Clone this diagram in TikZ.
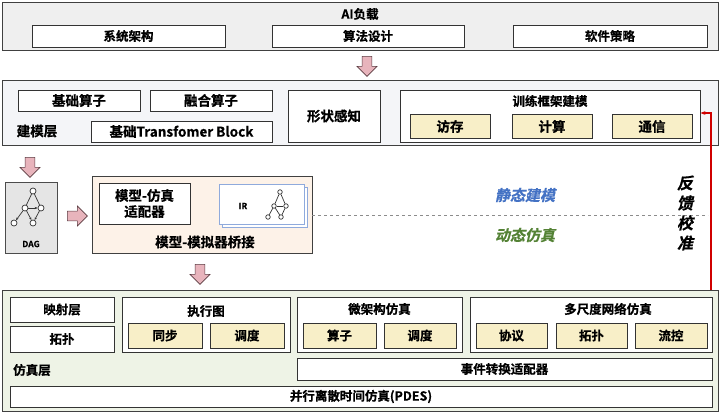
\documentclass[tikz,border=0pt]{standalone}
\usepackage{fontspec}
\setmainfont{Noto Sans CJK SC Bold}[FakeBold=0.6]
\newfontfamily\slfont{Noto Sans CJK SC Bold}[FakeSlant=0.22,FakeBold=0.6]
\usetikzlibrary{shapes.arrows,arrows.meta,calc}
\definecolor{panelgray}{HTML}{EFEFEF}
\definecolor{panelblue}{HTML}{F4F5F8}
\definecolor{panelgreen}{HTML}{EEF3E6}
\definecolor{subyel}{HTML}{F8EFC8}
\definecolor{bridgec}{HTML}{FDF2E8}
\definecolor{pinkarr}{HTML}{E8B4BC}
\definecolor{pinkdraw}{HTML}{5A3A40}
\definecolor{stblue}{HTML}{4472C4}
\definecolor{dygreen}{HTML}{548235}
\definecolor{fbred}{HTML}{D00000}
\tikzset{
  panel/.style={draw=black!75,line width=1pt},
  wbox/.style={draw=black!80,line width=0.9pt,fill=white},
  ybox/.style={draw=black!80,line width=0.9pt,fill=subyel},
  lbl/.style={font=\fontsize{12.5}{14}\selectfont},
  blbl/.style={font=\fontsize{13.5}{16}\selectfont},
  barrow/.style={single arrow,draw=pinkdraw,fill=pinkarr,line width=0.6pt,minimum height=20pt,minimum width=20pt,single arrow head extend=3pt,inner sep=2.5pt},
  gnode/.style={circle,draw=black!80,line width=0.7pt,fill=white,inner sep=0pt,minimum size=6pt},
  gedge/.style={draw=black!80,line width=0.7pt}
}
\begin{document}
\begin{tikzpicture}[x=1pt,y=-1pt]
\useasboundingbox (0,0) rectangle (720,413);
% top panel
\draw[panel,fill=panelgray] (2,2) rectangle (718,50);
\node[lbl] (ai) at (360,14) {AI负载};
\node[wbox,lbl,minimum width=193pt,minimum height=22pt,inner sep=0pt] (sys) at (128.5,36) {系统架构};
\node[wbox,lbl,minimum width=192pt,minimum height=22pt,inner sep=0pt] (alg) at (368,36) {算法设计};
\node[wbox,lbl,minimum width=194pt,minimum height=22pt,inner sep=0pt] (sw) at (610,36) {软件策略};
\node[barrow,rotate=-90] (a1) at (367,64) {};
% modeling panel
\draw[panel,fill=panelblue] (2,80) rectangle (718,145);
\node[wbox,blbl,minimum width=122pt,minimum height=21pt,inner sep=0pt] (op) at (79,100.5) {基础算子};
\node[wbox,blbl,minimum width=122pt,minimum height=21pt,inner sep=0pt] (fop) at (211,100.5) {融合算子};
\node[wbox,blbl,minimum width=181pt,minimum height=21pt,inner sep=0pt] (tb) at (181.5,131.5) {基础Transfomer Block};
\node[blbl] (mlayer) at (37,131) {建模层};
\node[wbox,blbl,minimum width=92pt,minimum height=52pt,inner sep=0pt] (shape) at (334,116) {形状感知};
\node[wbox,minimum width=300pt,minimum height=52pt,inner sep=0pt] (train) at (550,116) {};
\node[lbl] (traint) at (550,101) {训练框架建模};
\node[ybox,blbl,minimum width=80pt,minimum height=24pt,inner sep=0pt] (mem) at (450,126.5) {访存};
\node[ybox,blbl,minimum width=80pt,minimum height=24pt,inner sep=0pt] (comp) at (552,126.5) {计算};
\node[ybox,blbl,minimum width=80pt,minimum height=24pt,inner sep=0pt] (comm) at (652,126.5) {通信};
\node[barrow,rotate=-90] (a2) at (30,165) {};
% DAG
\node[draw=black!70,line width=0.8pt,fill=black!10,minimum width=52pt,minimum height=71pt,inner sep=0pt] (dag) at (31,217.5) {};
\node[font=\fontsize{8.5}{9}\selectfont] (dagt) at (31,244) {DAG};
\begin{scope}[shift={(31,210)}]
  \node[gnode] (g1) at (2,-19) {};
  \node[gnode] (g2) at (-6,-2) {};
  \node[gnode] (g3) at (10,-2) {};
  \node[gnode] (g4) at (-17,13) {};
  \node[gnode] (g5) at (2,13) {};
  \draw[gedge] (g1)--(g2); \draw[gedge] (g1)--(g3);
  \draw[gedge,-{Stealth[length=3pt]}] (g2)--(g3);
  \draw[gedge,-{Stealth[length=3pt]}] (g2)--(g5);
  \draw[gedge,-{Stealth[length=3pt]}] (g3)--(g5);
  \draw[gedge,-{Stealth[length=3pt]}] (g2)--(g4);
\end{scope}
\node[barrow] (a3) at (75,216) {};
% bridge
\node[panel,fill=bridgec,minimum width=220pt,minimum height=77pt,inner sep=0pt] (bridge) at (202,214.5) {};
\node[wbox,blbl,minimum width=91pt,minimum height=41pt,inner sep=0pt,align=center] (adapt) at (144.5,203.5) {模型-仿真\\适配器};
\draw[draw=stblue!60,fill=white,line width=0.6pt] (222,187) rectangle (307,227);
\node[draw=stblue!60,fill=white,line width=0.6pt,minimum width=85pt,minimum height=40pt,inner sep=0pt] (ir) at (261.5,204) {};
\node[font=\fontsize{8.5}{9}\selectfont] (irt) at (243,206) {IR};
\begin{scope}[shift={(280,206)}]
  \node[gnode,minimum size=4.5pt] (h1) at (0,-14) {};
  \node[gnode,minimum size=4.5pt] (h2) at (-6,0) {};
  \node[gnode,minimum size=4.5pt] (h3) at (6,0) {};
  \node[gnode,minimum size=4.5pt] (h4) at (-12,11) {};
  \node[gnode,minimum size=4.5pt] (h5) at (1,11) {};
  \draw[gedge] (h1)--(h2); \draw[gedge] (h1)--(h3);
  \draw[gedge] (h2)--(h3); \draw[gedge] (h2)--(h5);
  \draw[gedge] (h3)--(h5); \draw[gedge] (h2)--(h4);
\end{scope}
\node[blbl] (bridget) at (205,242) {模型-模拟器桥接};
% dashed divider
\coordinate (dstart) at (312,215);
\coordinate (dend) at (708,215);
\draw[black!45,dashed,line width=0.6pt] (dstart) -- (dend);
\node[font=\fontsize{15}{17}\slfont,text=stblue] (static) at (525,195) {静态建模};
\node[font=\fontsize{15}{17}\slfont,text=dygreen] (dynamic) at (525,235) {动态仿真};
\node[font=\fontsize{16}{20}\slfont,align=center] (fb) at (685,213) {反\\馈\\校\\准};
\node[barrow,rotate=-90] (a4) at (200,272) {};
% sim panel
\draw[panel,fill=panelgreen] (2,290) rectangle (718,411);
\node[wbox,lbl,minimum width=104pt,minimum height=25pt,inner sep=0pt] (map) at (62,309.5) {映射层};
\node[wbox,lbl,minimum width=104pt,minimum height=26pt,inner sep=0pt] (topo) at (62,339) {拓扑};
\node[wbox,minimum width=168pt,minimum height=55pt,inner sep=0pt] (exec) at (206,324.5) {};
\node[lbl] (exect) at (206,311) {执行图};
\node[ybox,lbl,minimum width=74pt,minimum height=25pt,inner sep=0pt] (sync) at (165,335.5) {同步};
\node[ybox,lbl,minimum width=74pt,minimum height=25pt,inner sep=0pt] (sch1) at (247,335.5) {调度};
\node[wbox,minimum width=165pt,minimum height=55pt,inner sep=0pt] (micro) at (379.5,324.5) {};
\node[lbl] (microt) at (379.5,309) {微架构仿真};
\node[ybox,lbl,minimum width=73pt,minimum height=25pt,inner sep=0pt] (opr) at (339.5,335.5) {算子};
\node[ybox,lbl,minimum width=72pt,minimum height=25pt,inner sep=0pt] (sch2) at (420,335.5) {调度};
\node[wbox,minimum width=242pt,minimum height=55pt,inner sep=0pt] (net) at (591,324.5) {};
\node[lbl] (nett) at (608,309) {多尺度网络仿真};
\node[ybox,lbl,minimum width=71pt,minimum height=25pt,inner sep=0pt] (prot) at (511.5,335.5) {协议};
\node[ybox,lbl,minimum width=71pt,minimum height=25pt,inner sep=0pt] (ntopo) at (591.5,335.5) {拓扑};
\node[ybox,lbl,minimum width=72pt,minimum height=25pt,inner sep=0pt] (flow) at (671,335.5) {流控};
\node[lbl] (simlayer) at (32,370) {仿真层};
\node[wbox,lbl,minimum width=415pt,minimum height=22pt,inner sep=0pt] (evt) at (504.5,369) {事件转换适配器};
\node[wbox,lbl,minimum width=702pt,minimum height=21pt,inner sep=0pt] (pdes) at (361,396.5) {并行离散时间仿真(PDES)};
% feedback arrow
\coordinate (fb0) at (711,290);
\coordinate (fb1) at (711,113);
\draw[draw=fbred,line width=1.4pt,-{Stealth[length=5pt]}] (fb0) -- (fb1) -- (train.east|-fb1);
\end{tikzpicture}
\end{document}
